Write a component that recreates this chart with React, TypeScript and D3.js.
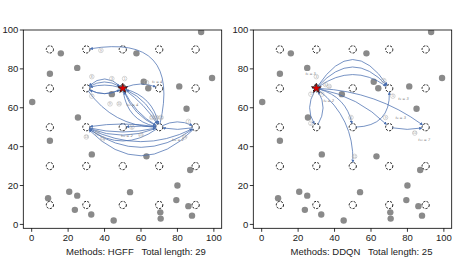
import React from 'react';
import * as d3 from 'd3';

const W = 467;
const H = 263;

const xTicks = [0, 20, 40, 60, 80, 100];
const yTicks = [0, 20, 40, 60, 80, 100];
const gridX = [10, 30, 50, 70, 90];
const gridY = [10, 30, 50, 70, 90];

// gray points, same in both panels
const obstacles = [
  [93, 99], [16, 88], [57.5, 88], [10, 77.5], [25, 80.5], [99, 75.3], [0.3, 63],
  [61.5, 73.4], [64, 70], [81, 71], [44, 67], [25.4, 55], [85, 59.5], [10, 43],
  [33, 36], [63, 35], [87, 28], [80, 20], [20.6, 16.8], [25, 14.8], [9, 13.5],
  [54, 16.6], [79.4, 12.5], [86, 9.4], [23.7, 7.5], [32.7, 5.1], [70.6, 6.2],
  [70.8, 3], [88, 4.5], [45, 2],
];

// [x1, y1, x2, y2, rad]
const hgffEdges = [
  [50, 70, 30, 70, 0.45], [30, 70, 50, 70, -0.3], [50, 70, 30, 70, 0.15],
  [30, 70, 50, 70, 0.25], [50, 70, 30, 70, -0.25], [50, 70, 70, 70, -0.2],
  [70, 50, 30, 90, 0.75], [50, 70, 70, 50, 0.35], [50, 70, 70, 50, 0.15],
  [50, 70, 70, 50, -0.1], [50, 70, 70, 50, -0.3], [70, 50, 50, 70, 0.2],
  [70, 50, 50, 70, -0.2], [30, 70, 70, 50, 0.25], [70, 50, 50, 50, 0.05],
  [70, 50, 30, 50, 0.08], [30, 50, 70, 50, 0.12], [70, 50, 30, 50, -0.2],
  [70, 50, 30, 50, -0.35], [70, 50, 90, 50, -0.25], [90, 50, 70, 50, -0.1],
  [90, 50, 30, 50, -0.35], [90, 50, 30, 50, -0.5], [30, 50, 90, 50, 0.25],
];
const hgffMarks = [
  [33, 76, 8], [44, 75, 3], [51, 75, 1], [63, 73, 2], [33, 66, 7], [43, 62, 9],
  [48, 62, 10], [66, 55, 12], [68.5, 55, 13], [71, 55, 14], [55, 50, 6],
  [36, 47, 11], [30, 45, 13], [39, 44, 14], [60, 46, 15], [86, 53, 7],
  [84, 45, 16], [38, 89.5, 9],
];
const hgffNotes = [
  [66, 72.6, 't₂ = 4'], [52, 61, 't₁₀ = 4'], [49, 45, 't₁₁ = 2'], [77, 43, 't₁₆ = 2'],
];

const ddqnEdges = [
  [30, 70, 70, 70, -0.75], [30, 70, 70, 70, -0.55], [30, 70, 70, 70, -0.35],
  [30, 70, 90, 50, -0.15], [30, 70, 30, 50, 0.3], [30, 50, 30, 70, 0.3],
  [30, 70, 50, 50, -0.3], [30, 70, 70, 50, -0.15], [30, 70, 50, 30, -0.25],
  [50, 50, 70, 70, 0.5], [70, 50, 90, 50, 0.1],
];
const ddqnMarks = [
  [30, 76, 3], [35, 72, 6], [37, 71, 10], [27, 67, 1], [33, 67, 9], [27, 52, 2],
  [49, 55, 4], [68, 55, 9], [72, 66, 5], [67, 74, 7], [84, 47, 10], [51, 35, 11],
];
const ddqnNotes = [
  [24, 77, 't₃ = 3'], [34, 63, 't₉ = 2'], [73.5, 54, 't₉ = 3'], [75, 64, 't₅ = 3'],
  [86, 43, 't₁₀ = 7'],
];

const panels = [
  { method: 'HGFF', total: 29, start: [50, 70], edges: hgffEdges, marks: hgffMarks, notes: hgffNotes, dx: 0, titleX: 136 },
  { method: 'DDQN', total: 25, start: [30, 70], edges: ddqnEdges, marks: ddqnMarks, notes: ddqnNotes, dx: 230, titleX: 361.5 },
];

const FONT = "'Liberation Sans', Arial, sans-serif";
const BLUE = '#4a6fb0';

function arcPath(x, y, e) {
  const [x1, y1, x2, y2, rad] = e;
  let p0 = [x(x1), y(y1)];
  let p2 = [x(x2), y(y2)];
  const mx = (p0[0] + p2[0]) / 2;
  const my = (p0[1] + p2[1]) / 2;
  const ddx = p2[0] - p0[0];
  const ddy = p2[1] - p0[1];
  const c = [mx - rad * ddy, my + rad * ddx];
  const shrink = (p, s) => {
    const vx = c[0] - p[0], vy = c[1] - p[1];
    const l = Math.hypot(vx, vy) || 1;
    return [p[0] + (vx / l) * s, p[1] + (vy / l) * s];
  };
  p0 = shrink(p0, 3);
  p2 = shrink(p2, 4);
  const path = d3.path();
  path.moveTo(p0[0], p0[1]);
  path.quadraticCurveTo(c[0], c[1], p2[0], p2[1]);
  return path.toString();
}

function Panel({ p }) {
  const x = d3.scaleLinear().domain([-4.6, 104.3]).range([23.3 + p.dx, 221.7 + p.dx]);
  const y = d3.scaleLinear().domain([-2, 100]).range([228.3, 30]);
  const [x0, x1] = x.range();
  const [y0, y1] = y.range();
  const star = d3.symbol(d3.symbolStar, 30)();
  const mid = `arrow-${p.method}`;
  return (
    <g>
      <defs>
        <marker id={mid} viewBox="0 0 10 10" refX="8" refY="5" markerWidth="3.2" markerHeight="3.2" orient="auto" markerUnits="userSpaceOnUse">
          <path d="M0,0 L10,5 L0,10 z" fill={BLUE} />
        </marker>
        <clipPath id={`clip-${p.method}`}>
          <rect x={x0} y={y1} width={x1 - x0} height={y0 - y1} />
        </clipPath>
      </defs>
      <rect x={x0} y={y1} width={x1 - x0} height={y0 - y1} fill="#fff" />
      <g clipPath={`url(#clip-${p.method})`}>
        {obstacles.map((d, i) => (
          <circle key={i} cx={x(d[0])} cy={y(d[1])} r={3.2} fill="#8a8a8a" />
        ))}
        {gridX.map((gx) =>
          gridY.map((gy) => (
            <circle key={`${gx}-${gy}`} cx={x(gx)} cy={y(gy)} r={3.6} fill="#fff" stroke="#000" strokeWidth={0.9} strokeDasharray="2.2,1.3" />
          ))
        )}
        {p.edges.map((e, i) => (
          <path key={i} d={arcPath(x, y, e)} fill="none" stroke={BLUE} strokeWidth={0.75} markerEnd={`url(#${mid})`} />
        ))}
        {p.marks.map((m, i) => (
          <g key={i} transform={`translate(${x(m[0])},${y(m[1])})`}>
            <circle r={2.3} fill="none" stroke="#aaa" strokeWidth={0.5} />
            <text textAnchor="middle" dy="1.3" fontSize={3.4} fill="#999" fontFamily={FONT}>{m[2]}</text>
          </g>
        ))}
        {p.notes.map((n, i) => (
          <text key={i} x={x(n[0])} y={y(n[1])} fontSize={3.6} fill="#777" fontFamily="'DejaVu Sans', sans-serif" fontStyle="italic">{n[2]}</text>
        ))}
        <path d={star} transform={`translate(${x(p.start[0])},${y(p.start[1])})`} fill="#e00000" stroke="#000" strokeWidth={0.6} />
      </g>
      <rect x={x0} y={y1} width={x1 - x0} height={y0 - y1} fill="none" stroke="#000" strokeWidth={0.8} />
      {xTicks.map((t) => (
        <g key={`x${t}`}>
          <line x1={x(t)} x2={x(t)} y1={y0} y2={y0 + 3.5} stroke="#000" strokeWidth={0.8} />
          <text x={x(t)} y={y0 + 12.5} textAnchor="middle" fontSize={9.5} fontFamily={FONT} fill="#222">{t}</text>
        </g>
      ))}
      {yTicks.map((t) => (
        <g key={`y${t}`}>
          <line x1={x0} x2={x0 - 3.5} y1={y(t)} y2={y(t)} stroke="#000" strokeWidth={0.8} />
          <text x={x0 - 5} y={y(t) + 3.4} textAnchor="end" fontSize={9.5} fontFamily={FONT} fill="#222">{t}</text>
        </g>
      ))}
      <text x={p.titleX} y={255} textAnchor="middle" fontSize={9.5} fontFamily={FONT} fill="#222" xmlSpace="preserve">
        {`Methods: ${p.method}   Total length: ${p.total}`}
      </text>
    </g>
  );
}

export default function App() {
  return (
    <svg width={W} height={H} style={{ position: 'absolute', left: 0, top: 0, background: '#fff' }}>
      {panels.map((p) => (
        <Panel key={p.method} p={p} />
      ))}
    </svg>
  );
}
